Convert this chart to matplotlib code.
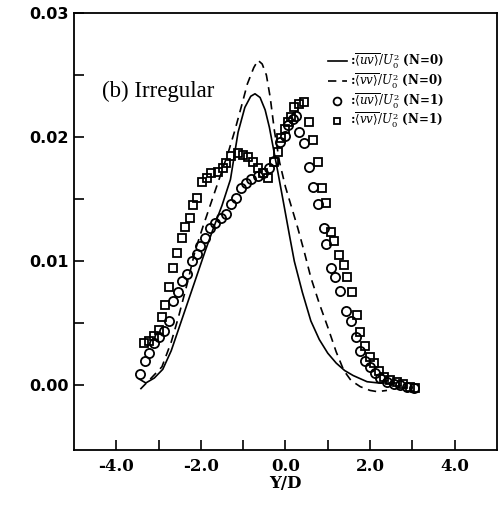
import numpy as np
import matplotlib
matplotlib.use("Agg")
import matplotlib.pyplot as plt

# N=0 curves (lines)
uv0_x = [-3.45, -3.3, -3.1, -2.9, -2.7, -2.5, -2.3, -2.1, -1.9, -1.7, -1.5, -1.3, -1.12, -0.96,
         -0.82, -0.72, -0.6, -0.48, -0.38, -0.28, -0.18, -0.05, 0.1, 0.21, 0.4, 0.6, 0.8, 1.0,
         1.2, 1.4, 1.6, 1.93, 2.2, 2.6]
uv0_y = [0.0005, 0.0002, 0.0006, 0.0013, 0.0028, 0.0048, 0.0068, 0.0088, 0.0108, 0.0127,
         0.0145, 0.0166, 0.0204, 0.0224, 0.0233, 0.0235, 0.0232, 0.0222, 0.0208, 0.0190,
         0.0172, 0.0148, 0.0120, 0.0100, 0.0075, 0.0052, 0.0037, 0.0026, 0.0018, 0.0012,
         0.0008, 0.0003, 0.0002, 0.0002]

vv0_x = [-3.43, -3.2, -2.92, -2.7, -2.53, -2.3, -2.14, -1.95, -1.75, -1.55, -1.35, -1.2, -1.04,
         -0.9, -0.75, -0.65, -0.55, -0.45, -0.36, -0.26, -0.14, 0.0, 0.15, 0.29, 0.45, 0.6,
         0.8, 1.0, 1.2, 1.38, 1.55, 1.77, 2.0, 2.17, 2.4]
vv0_y = [-0.0003, 0.0005, 0.0015, 0.0035, 0.0055, 0.0085, 0.0108, 0.0128, 0.0148, 0.0168,
         0.0188, 0.0205, 0.0225, 0.0243, 0.0256, 0.0262, 0.0259, 0.0250, 0.0232, 0.0205,
         0.0180, 0.0160, 0.0143, 0.0127, 0.0107, 0.0087, 0.0066, 0.0047, 0.0027, 0.0012,
         0.0004, -0.0001, -0.0004, -0.0005, -0.0004]

# N=1 measurements (markers)
uv1_x = [-3.43, -3.31, -3.23, -3.11, -3.0, -2.88, -2.76, -2.65, -2.53, -2.45, -2.33, -2.21,
         -2.09, -2.02, -1.9, -1.78, -1.67, -1.52, -1.4, -1.28, -1.16, -1.04, -0.93, -0.81,
         -0.65, -0.53, -0.38, -0.26, -0.14, -0.02, 0.05, 0.17, 0.25, 0.33, 0.45, 0.56, 0.64,
         0.76, 0.91, 0.95, 1.07, 1.18, 1.3, 1.42, 1.54, 1.66, 1.77, 1.89, 2.0, 2.12, 2.24,
         2.4, 2.56, 2.71, 2.87, 3.03]
uv1_y = [0.0009, 0.0020, 0.0026, 0.0034, 0.0039, 0.0044, 0.0052, 0.0068, 0.0075, 0.0084,
         0.0090, 0.0100, 0.0106, 0.0112, 0.0119, 0.0127, 0.0131, 0.0135, 0.0138, 0.0146,
         0.0151, 0.0159, 0.0163, 0.0166, 0.0169, 0.0171, 0.0175, 0.0181, 0.0196, 0.0201,
         0.0210, 0.0215, 0.0217, 0.0204, 0.0195, 0.0176, 0.0160, 0.0146, 0.0127, 0.0114,
         0.0095, 0.0087, 0.0076, 0.0060, 0.0052, 0.0039, 0.0028, 0.0020, 0.0015, 0.0010,
         0.0006, 0.0003, 0.0001, 0.0, -0.0001, -0.0002]

vv1_x = [-3.35, -3.23, -3.11, -3.0, -2.92, -2.84, -2.76, -2.65, -2.57, -2.45, -2.37, -2.25,
         -2.18, -2.1, -1.98, -1.86, -1.75, -1.59, -1.47, -1.4, -1.28, -1.12, -1.0, -0.89,
         -0.77, -0.65, -0.53, -0.41, -0.26, -0.18, -0.1, -0.02, 0.05, 0.13, 0.21, 0.33, 0.45,
         0.56, 0.64, 0.76, 0.87, 0.95, 1.07, 1.15, 1.27, 1.38, 1.46, 1.58, 1.7, 1.77, 1.89,
         2.0, 2.09, 2.2, 2.32, 2.48, 2.64, 2.79, 2.95, 3.07]
vv1_y = [0.0034, 0.0036, 0.0040, 0.0045, 0.0055, 0.0065, 0.0079, 0.0095, 0.0107, 0.0119,
         0.0128, 0.0135, 0.0145, 0.0151, 0.0164, 0.0167, 0.0171, 0.0172, 0.0175, 0.0179,
         0.0185, 0.0187, 0.0186, 0.0184, 0.0180, 0.0175, 0.0171, 0.0167, 0.0180, 0.0188,
         0.0199, 0.0207, 0.0212, 0.0216, 0.0224, 0.0227, 0.0228, 0.0212, 0.0198, 0.0180,
         0.0159, 0.0147, 0.0124, 0.0116, 0.0105, 0.0097, 0.0087, 0.0075, 0.0057, 0.0043,
         0.0032, 0.0023, 0.0018, 0.0012, 0.0007, 0.0004, 0.0003, 0.0001, -0.0001, -0.0002]

labels = [r':$\overline{\langle uv\rangle}/U_0^2$ (N=0)',
          r':$\overline{\langle vv\rangle}/U_0^2$ (N=0)',
          r':$\overline{\langle uv\rangle}/U_0^2$ (N=1)',
          r':$\overline{\langle vv\rangle}/U_0^2$ (N=1)']
xticks = [-4, -2, 0, 2, 4]
yticks = [0.0, 0.01, 0.02, 0.03]

plt.rcParams['mathtext.fontset'] = 'dejavuserif'

fig = plt.figure(figsize=(5.03, 5.08), dpi=100)
ax = fig.add_axes([0.147, 0.1142, 0.841, 0.860])

ax.plot(uv0_x, uv0_y, color='black', lw=1.2, label=labels[0])
ax.plot(vv0_x, vv0_y, color='black', lw=1.2, ls=(0, (5, 3.5)), label=labels[1])
ax.plot(uv1_x, uv1_y, ls='none', marker='o', ms=6.6, mfc='none', mec='black', mew=1.3,
        label=labels[2])
ax.plot(vv1_x, vv1_y, ls='none', marker='s', ms=5.8, mfc='none', mec='black', mew=1.3,
        label=labels[3])

ax.set_xlim(-5, 5)
ax.set_ylim(-0.0052, 0.0298)

ax.set_xticks(xticks)
ax.set_xticklabels(['%.1f' % v for v in xticks], family='DejaVu Serif', weight='bold',
                   fontsize=12)
ax.set_xticks([-3, -1, 1, 3], minor=True)
ax.set_yticks(yticks)
ax.set_yticklabels(['%.2f' % v for v in yticks], family='DejaVu Sans', weight='bold',
                   fontsize=11.5)
ax.set_yticks([0.005, 0.015, 0.025], minor=True)
ax.tick_params(which='both', direction='in', length=7, width=1.2, top=False, right=False)
ax.tick_params(axis='x', pad=6)
for s in ax.spines.values():
    s.set_linewidth(1.3)

ax.set_xlabel('Y/D', family='DejaVu Serif', weight='bold', fontsize=12, labelpad=0)

ax.text(-4.33, 0.0237, '(b) Irregular', family='Liberation Serif', fontsize=16.5, va='center')

ax.legend(loc='upper left', bbox_to_anchor=(0.6, 0.912), frameon=False, borderpad=0,
          borderaxespad=0, handlelength=1.6, handletextpad=0.25, labelspacing=0.02,
          markerscale=0.85,
          prop={'family': 'DejaVu Serif', 'weight': 'bold', 'size': 8.6})

fig.savefig('out.png', dpi=100)
